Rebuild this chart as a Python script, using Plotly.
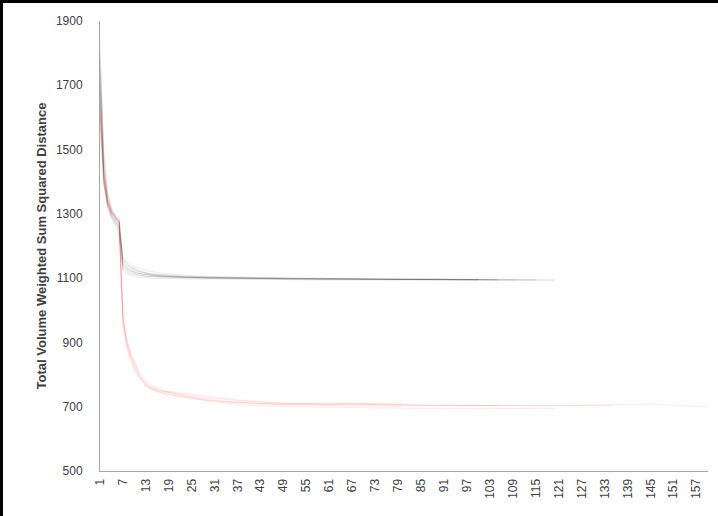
import plotly.graph_objects as go

ITER = [1, 2, 3, 4, 5, 6, 7, 8, 9, 10, 11, 12, 13, 14, 16, 18, 20, 23, 26, 30,
        34, 38, 42, 46, 50, 55, 60, 65, 70, 75, 80, 85, 90, 95, 100, 105, 110,
        115, 120, 125, 130, 135, 140, 145, 150, 155, 160]

grey_runs = [
    [1780, 1450, 1340, 1305, 1290, 1275, 1150, 1135, 1128, 1123, 1119, 1116, 1113, 1111, 1108, 1106, 1105, 1103, 1102, 1101, 1100, 1100, 1099, 1099, 1098, 1098, 1097, 1097, 1097, 1096, 1096, 1096, 1096, 1095, 1095, 1095, 1095, 1094, 1094],
    [1720, 1420, 1330, 1296, 1275, 1255, 1165, 1150, 1142, 1136, 1131, 1127, 1124, 1121, 1117, 1114, 1112, 1109, 1107, 1105, 1104, 1103, 1102, 1101, 1100, 1100, 1099, 1099, 1098, 1098, 1097, 1097, 1097, 1096, 1096],
    [1690, 1400, 1320, 1290, 1268, 1240, 1130, 1120, 1115, 1112, 1110, 1108, 1106, 1105, 1104, 1103, 1102, 1101, 1100, 1100, 1099, 1099, 1098, 1098, 1097, 1097, 1097, 1096, 1096, 1096, 1095, 1095, 1095, 1095, 1094, 1094],
    [1800, 1480, 1360, 1315, 1295, 1280, 1145, 1132, 1125, 1120, 1116, 1113, 1111, 1109, 1107, 1105, 1104, 1102, 1101, 1100, 1100, 1099, 1099, 1098, 1098, 1097, 1097, 1097, 1096, 1096, 1096, 1095, 1095, 1095, 1095, 1094, 1094, 1094],
    [1650, 1390, 1315, 1285, 1262, 1232, 1120, 1112, 1108, 1105, 1103, 1102, 1101, 1100, 1099, 1099, 1098, 1098, 1097, 1097, 1096, 1096, 1096, 1095, 1095, 1095, 1094, 1094, 1094, 1094, 1093, 1093, 1093, 1093, 1093],
    [1750, 1440, 1345, 1310, 1292, 1278, 1158, 1143, 1135, 1128, 1123, 1119, 1116, 1113, 1110, 1108, 1106, 1104, 1103, 1102, 1101, 1100, 1100, 1099, 1099, 1098, 1098, 1097, 1097, 1097, 1096, 1096, 1096, 1096, 1095, 1095],
    [1700, 1410, 1335, 1302, 1280, 1262, 1138, 1127, 1121, 1117, 1114, 1112, 1110, 1108, 1106, 1105, 1104, 1103, 1102, 1101, 1100, 1099, 1099, 1098, 1098, 1098, 1097, 1097, 1096, 1096, 1096, 1096, 1095, 1095, 1095, 1095, 1094, 1094, 1094],
    [1760, 1460, 1350, 1312, 1293, 1282, 1152, 1139, 1131, 1125, 1121, 1118, 1115, 1113, 1111, 1109, 1107, 1105, 1104, 1103, 1102, 1101, 1101, 1100, 1100, 1099, 1099, 1098, 1098, 1097, 1097, 1097, 1096, 1096, 1096],
    [1670, 1395, 1325, 1292, 1272, 1250, 1126, 1117, 1112, 1109, 1107, 1106, 1105, 1104, 1103, 1102, 1101, 1100, 1100, 1099, 1099, 1098, 1098, 1098, 1097, 1097, 1097, 1096, 1096, 1096, 1095, 1095, 1095, 1095, 1095, 1094, 1094],
    [1820, 1500, 1370, 1320, 1298, 1285, 1162, 1146, 1137, 1130, 1125, 1121, 1118, 1115, 1112, 1110, 1108, 1106, 1104, 1103, 1102, 1101, 1100, 1100, 1099, 1099, 1098, 1098, 1097, 1097, 1097, 1096, 1096, 1096, 1096, 1095],
    [1730, 1430, 1338, 1306, 1289, 1274, 1142, 1130, 1123, 1118, 1115, 1113, 1111, 1110, 1108, 1106, 1105, 1104, 1103, 1102, 1101, 1101, 1100, 1100, 1099, 1099, 1098, 1098, 1098, 1097, 1097, 1097, 1096, 1096, 1096, 1096, 1095, 1095],
    [1680, 1405, 1328, 1294, 1276, 1258, 1134, 1124, 1118, 1114, 1111, 1109, 1107, 1106, 1105, 1104, 1103, 1102, 1101, 1100, 1100, 1099, 1099, 1098, 1098, 1098, 1097, 1097, 1096, 1096, 1096, 1095, 1095, 1095, 1095],
]

red_runs = [
    [1620, 1420, 1340, 1305, 1288, 1272, 975, 900, 860, 830, 805, 785, 770, 760, 748, 740, 735, 728, 723, 718, 714, 711, 709, 707, 706, 705, 704, 703, 702, 702, 701],
    [1600, 1400, 1330, 1300, 1283, 1268, 965, 890, 850, 820, 797, 780, 767, 758, 750, 745, 740, 734, 729, 722, 717, 713, 710, 708, 707, 710, 712, 711, 709, 707, 706, 705, 704, 704, 703, 703],
    [1640, 1430, 1345, 1308, 1290, 1275, 985, 910, 870, 840, 815, 795, 780, 770, 757, 748, 742, 733, 725, 716, 710, 706, 703, 701, 700, 699, 698, 697, 697, 696, 696, 695, 695, 695, 695, 694, 694, 694, 694],
    [1580, 1390, 1325, 1297, 1280, 1262, 955, 880, 845, 815, 792, 776, 765, 756, 746, 740, 736, 731, 726, 720, 716, 713, 711, 709, 708, 707, 706, 706, 705, 705, 705, 704, 704, 704, 704, 703, 703, 703, 703, 704, 706, 708, 709, 708, 705, 702, 700],
    [1610, 1410, 1335, 1302, 1285, 1270, 970, 895, 855, 825, 800, 782, 768, 760, 752, 747, 743, 738, 733, 727, 722, 718, 715, 712, 710, 709, 708, 710, 711, 710, 709],
    [1630, 1425, 1342, 1306, 1289, 1273, 980, 905, 865, 835, 810, 790, 775, 765, 755, 749, 745, 741, 737, 731, 725, 720, 716, 713, 711, 709, 708, 707, 706, 706, 705, 705, 705, 704, 704, 704, 704, 703, 703, 703, 703, 703],
]

x_tick_vals = list(range(1, 161, 6))
y_tick_vals = [500, 700, 900, 1100, 1300, 1500, 1700, 1900]
y_title = "Total Volume Weighted Sum Squared Distance"

fig = go.Figure()
for run in grey_runs:
    fig.add_trace(go.Scatter(x=ITER[:len(run)], y=run, mode="lines",
                             line=dict(color="rgba(0,0,0,0.075)", width=1),
                             hoverinfo="skip", showlegend=False))
for run in red_runs:
    fig.add_trace(go.Scatter(x=ITER[:len(run)], y=run, mode="lines",
                             line=dict(color="rgba(255,0,0,0.09)", width=1),
                             hoverinfo="skip", showlegend=False))

BORDER = 3
W, H = 718 - BORDER, 516 - BORDER
L, R, T, B = 100 - BORDER, 10, 21 - BORDER, 45

fig.update_layout(
    width=W, height=H,
    margin=dict(l=L, r=R, t=T, b=B, autoexpand=False),
    paper_bgcolor="white", plot_bgcolor="white",
    font=dict(family="Liberation Sans, Arial, sans-serif", size=12, color="#404040"),
    xaxis=dict(range=[1, 160], tickmode="array", tickvals=x_tick_vals,
               ticktext=[str(v) for v in x_tick_vals], tickangle=-90,
               showgrid=False, zeroline=False, showline=True,
               linecolor="#a6a6a6", linewidth=1, ticks="outside", ticklen=2,
               tickcolor="rgba(0,0,0,0)", tickfont=dict(size=12, color="#404040")),
    yaxis=dict(range=[500, 1900], tickmode="array", tickvals=y_tick_vals,
               showgrid=False, zeroline=False, showline=True,
               linecolor="#a6a6a6", linewidth=1, ticks="outside", ticklen=14,
               tickcolor="rgba(0,0,0,0)", tickfont=dict(size=12, color="#404040"),
               title=dict(text="<b>" + y_title + "</b>",
                          font=dict(size=13, color="#404040"), standoff=6)),
)

fig.write_html(
    "out.html",
    div_id="chart",
    config={"displayModeBar": False},
    post_script=("document.body.style.margin='0';"
                 "document.body.style.overflow='hidden';"
                 "document.documentElement.style.overflow='hidden';"
                 "var d=document.getElementById('chart');"
                 "d.style.borderLeft='3px solid black';"
                 "d.style.borderTop='3px solid black';"),
)
